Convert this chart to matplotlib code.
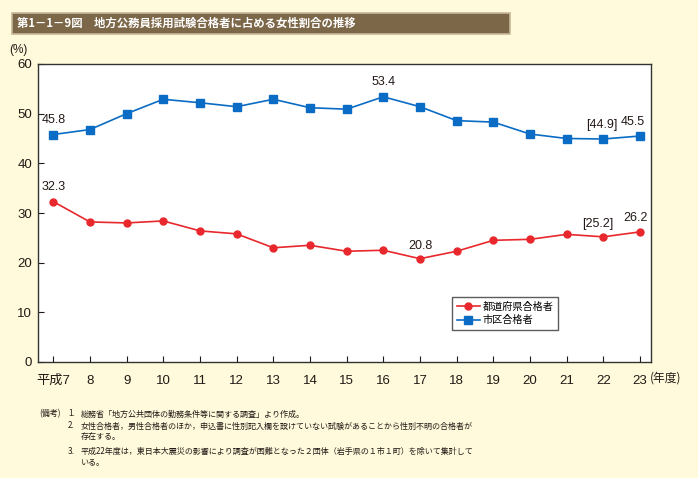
import matplotlib
matplotlib.use("Agg")
import matplotlib.pyplot as plt
from matplotlib.patches import Rectangle

plt.rcParams['font.family'] = ['Liberation Sans', 'Noto Sans CJK JP', 'DejaVu Sans']

years = [7, 8, 9, 10, 11, 12, 13, 14, 15, 16, 17, 18, 19, 20, 21, 22, 23]
year_labels = ['平成7'] + [str(y) for y in years[1:]]
pref = [32.3, 28.2, 28.0, 28.4, 26.4, 25.8, 23.0, 23.5, 22.3, 22.5, 20.8, 22.3, 24.5, 24.7, 25.7, 25.2, 26.2]
city = [45.8, 46.8, 50.0, 52.9, 52.2, 51.4, 52.9, 51.2, 50.9, 53.4, 51.4, 48.6, 48.3, 45.9, 45.0, 44.9, 45.5]
pref_labels = {7: '32.3', 17: '20.8', 22: '[25.2]', 23: '26.2'}
city_labels = {7: '45.8', 16: '53.4', 22: '[44.9]', 23: '45.5'}
series_names = ['都道府県合格者', '市区合格者']

bg = '#fffadc'
red = '#e8282c'
blue = '#0a6cc4'
txt = '#231815'

fig = plt.figure(figsize=(6.98, 4.78), dpi=100, facecolor=bg)
W, H = 698, 478

def fx(px):
    return px / W

def fy(py):
    return 1 - py / H

# Title banner
fig.patches.append(Rectangle((fx(12), fy(34)), fx(510) - fx(12), fy(13) - fy(34),
                             transform=fig.transFigure, facecolor='#7d6749',
                             edgecolor='#c8b898', linewidth=1.2))
fig.text(fx(17), fy(23.5), '第1－1－9図　地方公務員採用試験合格者に占める女性割合の推移',
         color='white', fontsize=8.2, fontweight='bold', va='center', ha='left',
         family=['Noto Sans CJK JP'])

ax = fig.add_axes([fx(37.5), fy(362), fx(651) - fx(37.5), fy(64) - fy(362)])
ax.set_facecolor('white')
ax.plot(years, pref, color=red, marker='o', markersize=5, linewidth=1.2, label=series_names[0])
ax.plot(years, city, color=blue, marker='s', markersize=5.5, linewidth=1.2, label=series_names[1])

ax.set_xlim(6.57, 23.30)
ax.set_ylim(0, 60)
ax.set_yticks(range(0, 61, 10))
ax.set_xticks(years)
ax.set_xticklabels(year_labels)
ax.tick_params(direction='in', length=4, width=0.8, colors=txt, labelsize=9.5, labelcolor=txt)
ax.tick_params(axis='x', pad=9)
ax.tick_params(axis='y', pad=4)
for s in ax.spines.values():
    s.set_color('#333333')
    s.set_linewidth(1.0)

pref_off = {7: (0, 6), 17: (0, 5), 22: (-4, 5), 23: (-3, 6)}
city_off = {7: (0, 6), 16: (0, 6), 22: (-1, 6), 23: (-5, 6)}
for x, lab in pref_labels.items():
    v = pref[years.index(x)]
    ax.annotate(lab, (x, v), xytext=pref_off[x], textcoords='offset points', ha='center',
                va='bottom', fontsize=9, color=txt)
for x, lab in city_labels.items():
    v = city[years.index(x)]
    ax.annotate(lab, (x, v), xytext=city_off[x], textcoords='offset points', ha='center',
                va='bottom', fontsize=9, color=txt)

leg = ax.legend(loc='lower left', bbox_to_anchor=((452 - 37.5) / (651 - 37.5), (362 - 330) / 298),
                frameon=True, fancybox=False, edgecolor='#333333',
                handlelength=2.3, borderpad=0.45, labelspacing=0.35, handletextpad=0.3,
                borderaxespad=0, prop={'family': ['Noto Sans CJK JP'], 'size': 7.3})
leg.get_frame().set_linewidth(1.0)

fig.text(fx(9), fy(50), '(%)', fontsize=8.5, color=txt, va='center', ha='left')
fig.text(fx(650), fy(378), '(年度)', fontsize=8.5, color=txt, va='center', ha='left',
         family=['Noto Sans CJK JP'])

notes_font = dict(fontsize=5.8, color=txt, va='center', ha='left', family=['Noto Sans CJK JP'])
fig.text(fx(39), fy(414), '(備考)', **notes_font)
fig.text(fx(68), fy(414), '1.', **notes_font)
fig.text(fx(81), fy(414), '総務省「地方公共団体の勤務条件等に関する調査」より作成。', **notes_font)
fig.text(fx(68), fy(426), '2.', **notes_font)
fig.text(fx(81), fy(426), '女性合格者，男性合格者のほか，申込書に性別記入欄を設けていない試験があることから性別不明の合格者が', **notes_font)
fig.text(fx(81), fy(437), '存在する。', **notes_font)
fig.text(fx(68), fy(451), '3.', **notes_font)
fig.text(fx(81), fy(451), '平成22年度は，東日本大震災の影響により調査が困難となった２団体（岩手県の１市１町）を除いて集計して', **notes_font)
fig.text(fx(81), fy(462), 'いる。', **notes_font)

fig.savefig('out.png', dpi=100, facecolor=bg)
